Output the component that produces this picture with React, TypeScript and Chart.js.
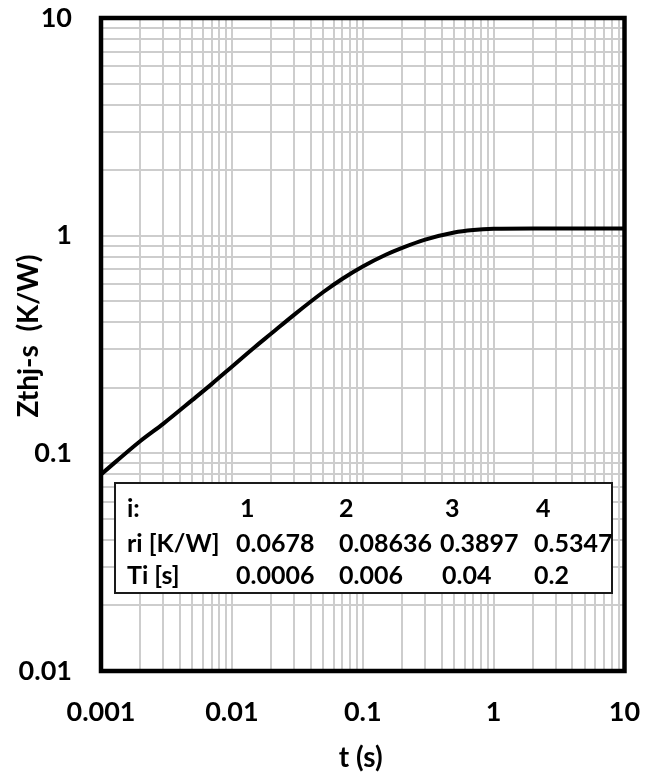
import React, { useEffect, useRef } from 'react';
import { Chart, registerables } from 'chart.js';

Chart.register(...registerables);

// Transient thermal impedance curve
const timeValues = [0.001, 0.002, 0.003, 0.005, 0.007, 0.01, 0.015, 0.02, 0.03, 0.05, 0.07, 0.1, 0.15, 0.2, 0.3, 0.5, 0.7, 1, 2, 5, 10];
const zthValues = [0.080, 0.114, 0.137, 0.176, 0.208, 0.250, 0.308, 0.355, 0.434, 0.551, 0.634, 0.722, 0.817, 0.879, 0.959, 1.035, 1.062, 1.075, 1.079, 1.079, 1.079];

// Axis decades, minor multipliers and labels
const xDecades = [0.001, 0.01, 0.1, 1, 10];
const yDecades = [0.01, 0.1, 1, 10];
const minorMultipliers = [1, 2, 3, 4, 5, 6, 7, 8, 9];
const xTickLabels = ['0.001', '0.01', '0.1', '1', '10'];
const yTickLabels = ['0.01', '0.1', '1', '10'];
const xTitle = 't (s)';
const yTitle = 'Zthj-s  (K/W)';

// Foster table
const tableRowLabels = ['i:', 'ri [K/W]', 'Ti [s]'];
const tableIndex = ['1', '2', '3', '4'];
const riValues = ['0.0678', '0.08636', '0.3897', '0.5347'];
const tiValues = ['0.0006', '0.006', '0.04', '0.2'];

const FONT = 'Lato, "Open Sans", sans-serif';

const buildGrid = (decades: number[]) => {
  const out: number[] = [];
  decades.forEach((d, i) => {
    if (i === decades.length - 1) {
      out.push(d);
    } else {
      minorMultipliers.forEach((m) => out.push(parseFloat((d * m).toPrecision(6))));
    }
  });
  return out;
};

const xGridValues = buildGrid(xDecades);
const yGridValues = buildGrid(yDecades);

const labelFor = (value: number, decades: number[], labels: string[]) => {
  const i = decades.findIndex((d) => Math.abs(value / d - 1) < 1e-6);
  return i >= 0 ? labels[i] : '';
};

const overlayPlugin = {
  id: 'overlay',
  beforeDatasetsDraw(chart: any) {
    const ctx = chart.ctx;
    ctx.save();
    // table box
    const bx = 115, by = 483, bw = 497, bh = 110;
    ctx.fillStyle = '#ffffff';
    ctx.fillRect(bx, by, bw, bh);
    ctx.strokeStyle = '#1a1a1a';
    ctx.lineWidth = 2;
    ctx.strokeRect(bx, by, bw, bh);

    ctx.fillStyle = '#000000';
    ctx.font = `bold 25px ${FONT}`;
    ctx.textAlign = 'left';
    ctx.textBaseline = 'alphabetic';
    const baselines = [517, 552, 584];
    const labelX = 127;
    tableRowLabels.forEach((t, r) => ctx.fillText(t, labelX, baselines[r]));
    const headX = [240, 339, 445, 536];
    const riX = [236, 339, 440, 534];
    const tiX = [236, 339, 442, 534];
    tableIndex.forEach((t, i) => ctx.fillText(t, headX[i], baselines[0]));
    riValues.forEach((t, i) => ctx.fillText(t, riX[i], baselines[1]));
    tiValues.forEach((t, i) => ctx.fillText(t, tiX[i], baselines[2]));
    ctx.restore();
  },
  afterDatasetsDraw(chart: any) {
    const ctx = chart.ctx;
    const a = chart.chartArea;
    ctx.save();
    ctx.strokeStyle = '#000000';
    ctx.lineWidth = 4.5;
    ctx.lineJoin = 'miter';
    ctx.strokeRect(a.left, a.top, a.right - a.left, a.bottom - a.top);
    ctx.restore();
  },
  afterDraw(chart: any) {
    const ctx = chart.ctx;
    const a = chart.chartArea;
    ctx.save();
    ctx.fillStyle = '#000000';
    ctx.font = `bold 28px ${FONT}`;
    ctx.textAlign = 'center';
    ctx.textBaseline = 'alphabetic';
    ctx.fillText(xTitle, (a.left + a.right) / 2 - 2, 767);
    ctx.translate(28.5, 336);
    ctx.rotate(-Math.PI / 2);
    ctx.textBaseline = 'middle';
    ctx.fillText(yTitle, 0, 0);
    ctx.restore();
  },
};

export default function App() {
  const canvasRef = useRef<HTMLCanvasElement | null>(null);

  useEffect(() => {
    const canvas = canvasRef.current;
    if (!canvas) return;
    const points = timeValues.map((t, i) => ({ x: t, y: zthValues[i] }));
    const gridColor = '#cdcdcd';
    const chart = new Chart(canvas, {
      type: 'line',
      data: {
        datasets: [
          {
            data: points,
            borderColor: '#000000',
            borderWidth: 4,
            pointRadius: 0,
            fill: false,
            cubicInterpolationMode: 'monotone',
          },
        ],
      },
      options: {
        animation: false,
        responsive: false,
        devicePixelRatio: 1,
        layout: { padding: { left: 0, top: 18, right: 32.5, bottom: 0 } },
        plugins: {
          legend: { display: false },
          tooltip: { enabled: false },
          title: { display: false },
        },
        scales: {
          x: {
            type: 'logarithmic',
            min: 0.001,
            max: 10,
            afterBuildTicks: (scale: any) => {
              scale.ticks = xGridValues.map((v) => ({ value: v }));
            },
            afterFit: (scale: any) => {
              scale.height = 107;
            },
            grid: { color: gridColor, lineWidth: 2, drawTicks: true, tickLength: 25, tickColor: 'rgba(0,0,0,0)' },
            border: { display: false },
            ticks: {
              autoSkip: false,
              maxRotation: 0,
              minRotation: 0,
              padding: 0,
              color: '#000000',
              font: { family: FONT, size: 27, weight: 'bold' },
              callback: (value: any) => labelFor(Number(value), xDecades, xTickLabels),
            },
          },
          y: {
            type: 'logarithmic',
            min: 0.01,
            max: 10,
            afterBuildTicks: (scale: any) => {
              scale.ticks = yGridValues.map((v) => ({ value: v }));
            },
            afterFit: (scale: any) => {
              scale.width = 101;
            },
            grid: { color: gridColor, lineWidth: 2, drawTicks: true, tickLength: 29, tickColor: 'rgba(0,0,0,0)' },
            border: { display: false },
            ticks: {
              autoSkip: false,
              padding: 0,
              color: '#000000',
              font: { family: FONT, size: 27, weight: 'bold' },
              callback: (value: any) => labelFor(Number(value), yDecades, yTickLabels),
            },
          },
        },
      },
      plugins: [overlayPlugin],
    } as any);
    return () => chart.destroy();
  }, []);

  return (
    <div style={{ position: 'absolute', left: 0, top: 0, width: 657, height: 778, background: '#ffffff' }}>
      <canvas ref={canvasRef} width={657} height={778} style={{ display: 'block', width: 657, height: 778 }} />
    </div>
  );
}
